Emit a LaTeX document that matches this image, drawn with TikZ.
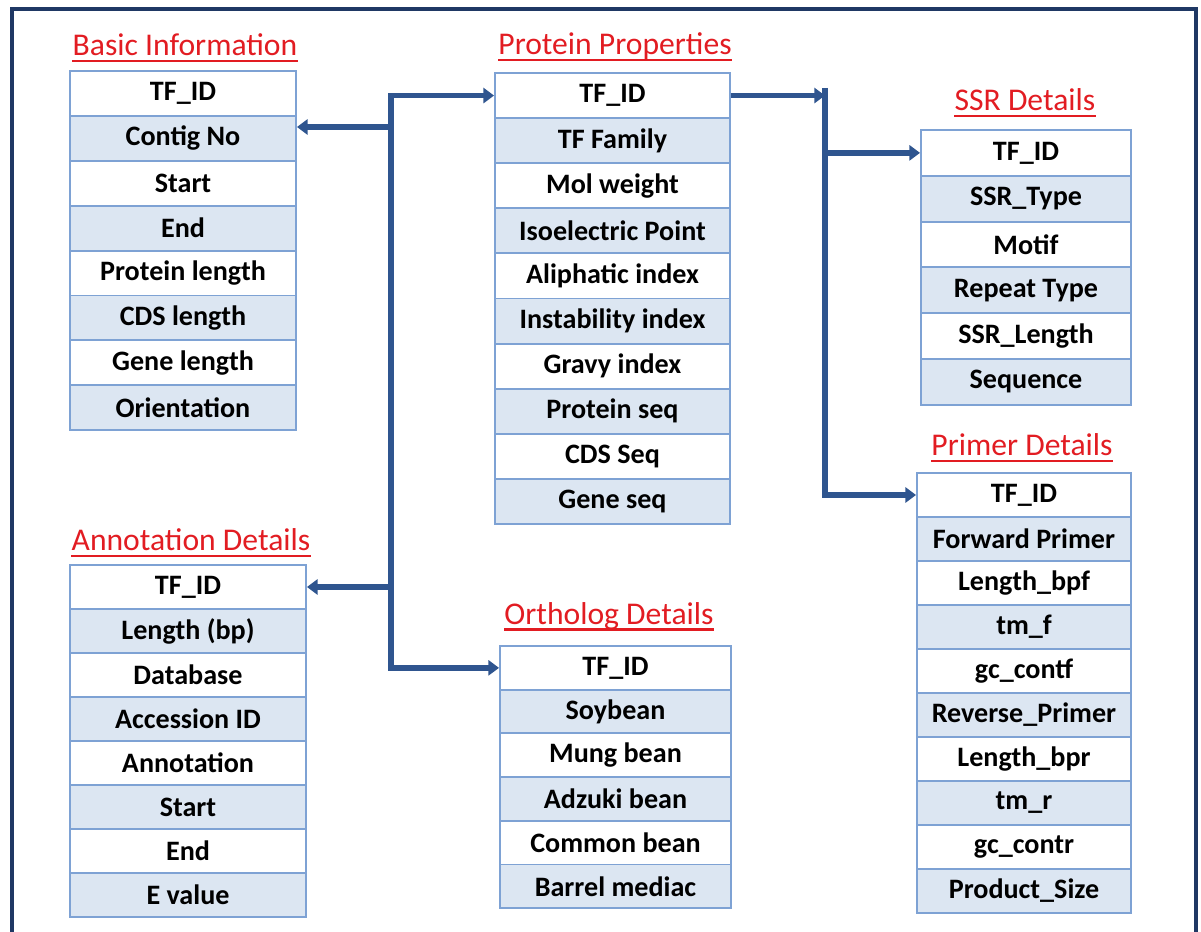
\documentclass[tikz,border=0pt]{standalone}
\usepackage{fontspec}
\setmainfont{Carlito}
\usetikzlibrary{arrows.meta}

\definecolor{framenavy}{RGB}{31,56,100}
\definecolor{linkblue}{RGB}{47,85,143}
\definecolor{cellline}{RGB}{126,162,212}
\definecolor{cellblue}{RGB}{220,230,242}
\definecolor{titlered}{RGB}{226,28,34}

\tikzset{
    cell/.style={draw=cellline, line width=1.1pt, inner sep=0pt,
        font=\bfseries\fontsize{16}{19}\selectfont},
    tabtitle/.style={text=titlered, inner sep=0pt,
        font=\fontsize{18}{22}\selectfont},
    titleline/.style={draw=titlered, line width=1.3pt},
    arr/.tip={Triangle[length=6pt,width=8.5pt]},
    link/.style={draw=linkblue, line width=3.3pt, line join=miter, -arr},
}

\begin{document}
\begin{tikzpicture}[x=0.02cm, y=-0.02cm]

            \useasboundingbox (0,0) rectangle (1201,932);
            \draw[framenavy, line width=1.8pt] (12,940) -- (12,9) -- (1196,9) -- (1196,940);

            % titles
            \node[tabtitle] (basict) at (185,45) {Basic Information};
            \node[tabtitle] (prott) at (615,46) {Protein Properties};
            \node[tabtitle] (ssrt) at (1025,100) {SSR Details};
            \node[tabtitle] (primert) at (1022,445) {Primer Details};
            \node[tabtitle] (annott) at (191,540) {Annotation Details};
            \node[tabtitle] (orthot) at (609,616) {Ortholog Details};
            \foreach \n in {basict, prott, ssrt, primert, annott, orthot}
            {
                \draw[titleline] ([yshift=-3pt]\n.base west) -- ([yshift=-3pt]\n.base east);
            }

            % tables
            \foreach \field [count=\i] in {TF\_ID, Contig No, Start, End, Protein length, CDS length, Gene length, Orientation}
            {
                \ifodd\i \def\cellfill{white}\else\def\cellfill{cellblue}\fi
                \node[cell, fill=\cellfill, minimum width=226*0.02cm, minimum height=44.9*0.02cm] (basic\i) at (183, {71+44.9*(\i-0.5)}) {\field};
            }
            \foreach \field [count=\i] in {TF\_ID, TF Family, Mol weight, Isoelectric Point, Aliphatic index, Instability index, Gravy index, Protein seq, CDS Seq, Gene seq}
            {
                \ifodd\i \def\cellfill{white}\else\def\cellfill{cellblue}\fi
                \node[cell, fill=\cellfill, minimum width=235*0.02cm, minimum height=45.1*0.02cm] (prot\i) at (612.5, {73+45.1*(\i-0.5)}) {\field};
            }
            \foreach \field [count=\i] in {TF\_ID, SSR\_Type, Motif, Repeat Type, SSR\_Length, Sequence}
            {
                \ifodd\i \def\cellfill{white}\else\def\cellfill{cellblue}\fi
                \node[cell, fill=\cellfill, minimum width=210*0.02cm, minimum height=45.8*0.02cm] (ssr\i) at (1026, {130+45.8*(\i-0.5)}) {\field};
            }
            \foreach \field [count=\i] in {TF\_ID, Forward Primer, Length\_bpf, tm\_f, gc\_contf, Reverse\_Primer, Length\_bpr, tm\_r, gc\_contr, Product\_Size}
            {
                \ifodd\i \def\cellfill{white}\else\def\cellfill{cellblue}\fi
                \node[cell, fill=\cellfill, minimum width=214*0.02cm, minimum height=44*0.02cm] (primer\i) at (1024, {473+44*(\i-0.5)}) {\field};
            }
            \foreach \field [count=\i] in {TF\_ID, Length (bp), Database, Accession ID, Annotation, Start, End, E value}
            {
                \ifodd\i \def\cellfill{white}\else\def\cellfill{cellblue}\fi
                \node[cell, fill=\cellfill, minimum width=236*0.02cm, minimum height=44*0.02cm] (annot\i) at (188, {565+44*(\i-0.5)}) {\field};
            }
            \foreach \field [count=\i] in {TF\_ID, Soybean, Mung bean, Adzuki bean, Common bean, Barrel mediac}
            {
                \ifodd\i \def\cellfill{white}\else\def\cellfill{cellblue}\fi
                \node[cell, fill=\cellfill, minimum width=231*0.02cm, minimum height=43.7*0.02cm] (ortho\i) at (615.5, {646+43.7*(\i-0.5)}) {\field};
            }

            % connectors
            \coordinate (busl) at (391,95);
            \coordinate (tobasic) at (391,127);
            \coordinate (busr) at (825,88);

            \draw[link, arr-arr] (prot1.west) -- (prot1.west -| busl) -- (busl |- ortho1.west) -- (ortho1.west);
            \draw[link] (tobasic) -- (tobasic -| basic2.east);
            \draw[link] (annot1.east -| busl) -- (annot1.east);

            \draw[link] (prot1.east) -- (prot1.east -| busr);
            \draw[link] (busr) -- (busr |- primer1.west) -- (primer1.west);
            \draw[link] (ssr1.west -| busr) -- (ssr1.west);
        \end{tikzpicture}
\end{document}
